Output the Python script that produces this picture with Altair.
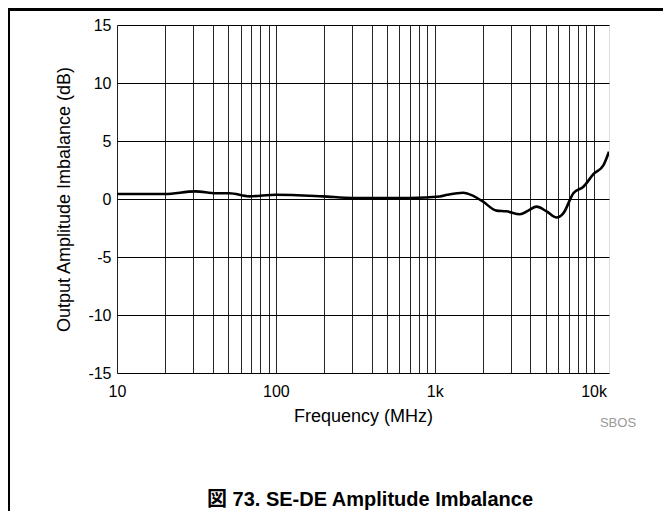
import altair as alt
import pandas as pd

freq_mhz = [10, 20, 31, 42, 51, 68, 100, 197, 305, 500, 695, 1075, 1200, 1507, 1746,
            2014, 2447, 2832, 3433, 3880, 4374, 5060, 5850, 6440, 7460, 8630, 10000, 11540, 12500]
imbalance_db = [0.43, 0.43, 0.66, 0.49, 0.49, 0.23, 0.37, 0.23, 0.09, 0.08, 0.09, 0.22, 0.36, 0.54, 0.27,
                -0.23, -1.0, -1.06, -1.32, -1.0, -0.66, -1.07, -1.6, -1.24, 0.49, 1.06, 2.16, 2.93, 4.08]

x_grid = [10, 20, 30, 40, 50, 60, 70, 80, 90, 100, 200, 300, 400, 500, 600, 700, 800, 900,
          1000, 2000, 3000, 4000, 5000, 6000, 7000, 8000, 9000, 10000]
y_ticks = [-15, -10, -5, 0, 5, 10, 15]
caption = "図 73. SE-DE Amplitude Imbalance"
doc_code = "SBOS"

FONT = "Liberation Sans, Arial, Noto Sans CJK JP"

df = pd.DataFrame({"f": freq_mhz, "a": imbalance_db})

x_enc = alt.X(
    "f:Q",
    scale=alt.Scale(type="log", domain=[10, 12500], nice=False),
    axis=alt.Axis(
        values=x_grid,
        labelExpr="datum.value == 10 ? '10' : datum.value == 100 ? '100' : datum.value == 1000 ? '1k' : datum.value == 10000 ? '10k' : ''",
        grid=True, gridColor="#000000", gridWidth=1, gridOpacity=0.85,
        ticks=False, domain=False, labelFontSize=16, labelPadding=10,
        labelColor="#000", labelFont=FONT, labelFlush=False,
        title="Frequency (MHz)", titleFontSize=18, titleFontWeight="normal",
        titleFont=FONT, titleColor="#000", titleY=43, titleBaseline="middle",
    ),
)
y_enc = alt.Y(
    "a:Q",
    scale=alt.Scale(domain=[-15, 15], nice=False),
    axis=alt.Axis(
        values=y_ticks, grid=True, gridColor="#000000", gridWidth=1,
        ticks=False, domain=False, labelFontSize=16, labelPadding=6,
        labelExpr="toString(datum.value)",
        labelColor="#000", labelFont=FONT,
        title="Output Amplitude Imbalance (dB)", titleFontSize=18,
        titleFontWeight="normal", titleFont=FONT, titleColor="#000",
        titleX=-53, titleY=174, titleAngle=-90, titleBaseline="middle", titleAlign="center",
    ),
)

line = alt.Chart(df).mark_line(
    color="#000", strokeWidth=2.6, interpolate="monotone", clip=True
).encode(x=x_enc, y=y_enc)

frame_v = alt.Chart(df).mark_rule(color="#000", strokeWidth=1.5).encode(
    x=alt.value(-108.5), y=alt.value(-15.5), y2=alt.value(600)
)
frame_h = alt.Chart(df).mark_rule(color="#000", strokeWidth=1.5).encode(
    x=alt.value(-108.5), x2=alt.value(700), y=alt.value(-15.5)
)
cap = alt.Chart(pd.DataFrame({"t": [caption]})).mark_text(
    fontSize=20, fontWeight="bold", font=FONT, color="#000", align="center", baseline="middle"
).encode(x=alt.value(253), y=alt.value(475), text="t:N")
code = alt.Chart(pd.DataFrame({"t": [doc_code]})).mark_text(
    fontSize=13, font=FONT, color="#999", align="center", baseline="middle"
).encode(x=alt.value(501), y=alt.value(398), text="t:N")

chart = alt.layer(line, frame_v, frame_h, cap, code).properties(
    width=492, height=348,
    padding={"left": 109, "top": 17, "right": 54, "bottom": 138},
    autosize=alt.AutoSizeParams(type="none"),
).configure_view(stroke="#000", strokeWidth=2.5).configure(background="white")

chart.save("out.html", embed_options={"renderer": "svg", "actions": False})
